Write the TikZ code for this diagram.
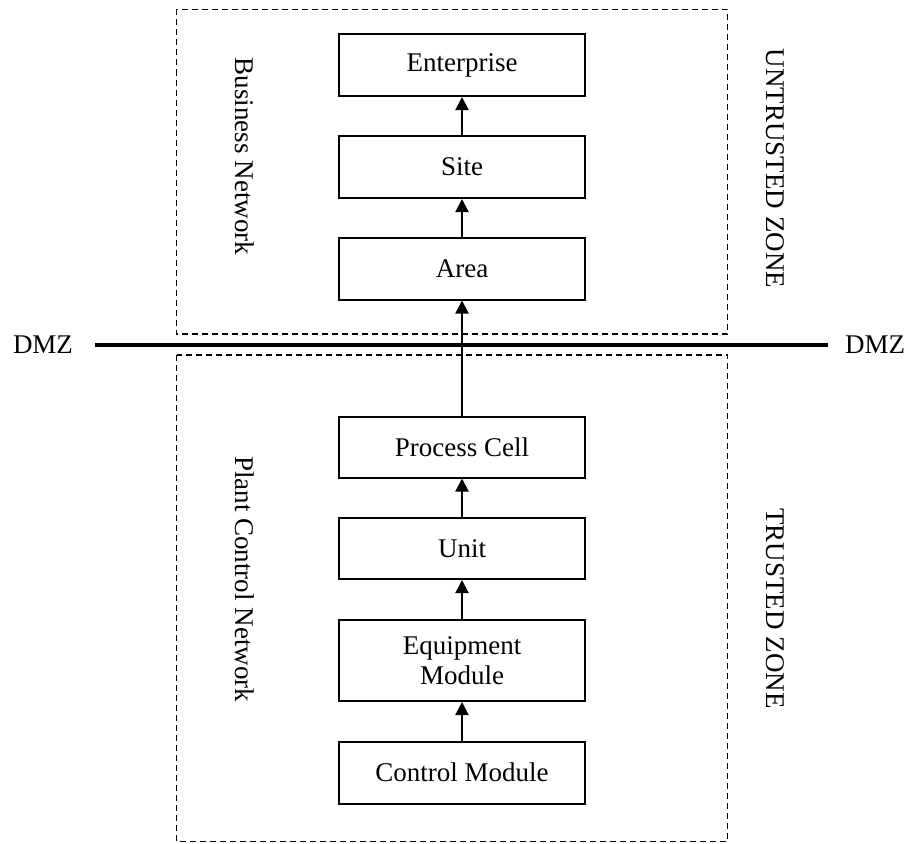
\documentclass[tikz,border=0pt]{standalone}
\usepackage{fontspec}
\setmainfont{Liberation Serif}
\usetikzlibrary{arrows.meta}
\begin{document}
\begin{tikzpicture}[x=1pt,y=-1pt,
  every node/.style={font=\fontsize{27pt}{30pt}\selectfont},
  level/.style={draw, line width=2pt, minimum width=246pt, inner sep=0pt, align=center},
  zone/.style={draw, line width=1.5pt, dash pattern=on 6pt off 4pt},
  upar/.style={line width=2pt, -{Triangle[width=13pt,length=13pt]}},
  sidelabel/.style={rotate=-90, anchor=center}
]
\useasboundingbox (0,0) rectangle (907,843);
% zones
\draw[zone] (176.5,9.5) rectangle (727.5,334);
\draw[zone] (176.5,355) rectangle (727.5,841.5);
% DMZ line
\node (dmzl) at (43,345) {DMZ};
\node (dmzr) at (875,345) {DMZ};
\coordinate (dl) at (95,345);
\coordinate (dr) at (828,345);
\draw[line width=3.5pt] (dl) -- (dr);
% levels
\node[level, minimum height=62pt] (ent) at (462,65) {Enterprise};
\node[level, minimum height=62pt] (site) at (462,167) {Site};
\node[level, minimum height=62pt] (area) at (462,268.5) {Area};
\node[level, minimum height=61pt] (pc) at (462,447) {Process Cell};
\node[level, minimum height=61pt] (unit) at (462,548.5) {Unit};
\node[level, minimum height=81pt] (eq) at (462,660.5) {Equipment\\Module};
\node[level, minimum height=62pt] (cm) at (462,772.5) {Control Module};
% arrows
\draw[upar] (site.north) -- (ent.south);
\draw[upar] (area.north) -- (site.south);
\draw[upar] (pc.north) -- (area.south);
\draw[upar] (unit.north) -- (pc.south);
\draw[upar] (eq.north) -- (unit.south);
\draw[upar] (cm.north) -- (eq.south);
% side labels
\node[sidelabel] (bn) at (245,156.5) {Business Network};
\node[sidelabel] (pcn) at (245,579) {Plant Control Network};
\node[sidelabel] (uz) at (775,168.5) {UNTRUSTED ZONE};
\node[sidelabel] (tz) at (775,608.5) {TRUSTED ZONE};
\end{tikzpicture}
\end{document}
